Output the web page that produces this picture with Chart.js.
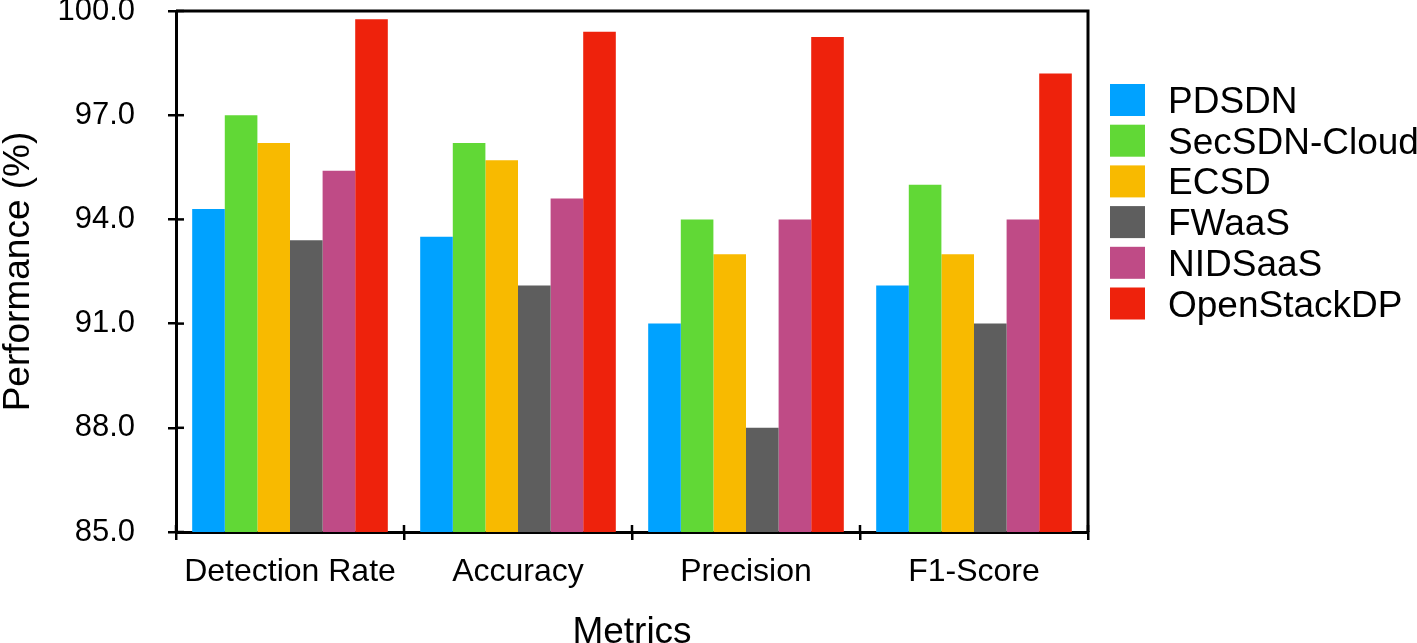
<!DOCTYPE html>
<html>
<head>
<meta charset="utf-8">
<script src="https://cdn.jsdelivr.net/npm/chart.js@4.4.1/dist/chart.umd.min.js"></script>
<style>
body{margin:0;background:#fff;}
#wrap{width:1417px;height:643px;position:relative;}
</style>
</head>
<body>
<div id="wrap"><canvas id="barChart"></canvas></div>
<script>
const categories = ['Detection Rate', 'Accuracy', 'Precision', 'F1-Score'];
const pdsdn     = [94.3, 93.5, 91.0, 92.1];
const secsdn    = [97.0, 96.2, 94.0, 95.0];
const ecsd      = [96.2, 95.7, 93.0, 93.0];
const fwaas     = [93.4, 92.1, 88.0, 91.0];
const nidsaas   = [95.4, 94.6, 94.0, 94.0];
const openstack = [99.76, 99.4, 99.25, 98.2];
const seriesNames  = ['PDSDN', 'SecSDN-Cloud', 'ECSD', 'FWaaS', 'NIDSaaS', 'OpenStackDP'];
const seriesColors = ['#00A2FF', '#61D836', '#F8BA00', '#5E5E5E', '#BF4B86', '#EE220C'];
const yTicks = [85, 88, 91, 94, 97, 100];

const FONT = "'Liberation Sans', Arial, sans-serif";
Chart.defaults.font.family = FONT;
Chart.defaults.color = '#000';

// frame top/right, inward tick marks and the legend
const frame = {
  id: 'frame',
  afterDraw(chart) {
    const {ctx, chartArea: a, scales: {x, y}} = chart;
    ctx.save();
    ctx.strokeStyle = '#000';
    ctx.lineWidth = 3;
    ctx.beginPath();
    ctx.moveTo(a.left, a.top);
    ctx.lineTo(a.right, a.top);
    ctx.lineTo(a.right, a.bottom);
    ctx.stroke();

    ctx.lineWidth = 2.5;
    yTicks.forEach(v => {
      const py = y.getPixelForValue(v);
      ctx.beginPath(); ctx.moveTo(a.left, py); ctx.lineTo(a.left + 8, py); ctx.stroke();
    });
    const half = (x.getPixelForValue(1) - x.getPixelForValue(0)) / 2;
    for (let i = 0; i <= categories.length; i++) {
      const px = x.getPixelForValue(0) - half + i * 2 * half;
      ctx.beginPath(); ctx.moveTo(px, a.bottom); ctx.lineTo(px, a.bottom - 7); ctx.stroke();
    }

    ctx.font = '37px ' + FONT;
    ctx.textBaseline = 'alphabetic';
    chart.data.datasets.forEach((ds, i) => {
      const top = 84 + i * 40.7;
      ctx.fillStyle = ds.backgroundColor;
      ctx.fillRect(a.right + 22, top, 35, 32);
      ctx.fillStyle = '#000';
      ctx.fillText(ds.label, a.right + 80, top + 29);
    });
    ctx.restore();
  }
};

const series = [pdsdn, secsdn, ecsd, fwaas, nidsaas, openstack];

new Chart(document.getElementById('barChart'), {
  type: 'bar',
  data: {
    labels: categories,
    datasets: series.map((d, i) => ({
      label: seriesNames[i],
      data: d,
      backgroundColor: seriesColors[i],
      borderWidth: 0,
      categoryPercentage: 0.858,
      barPercentage: 1.0
    }))
  },
  options: {
    responsive: true,
    maintainAspectRatio: false,
    animation: false,
    layout: {padding: {top: 11, right: 329, left: 0, bottom: 0}},
    plugins: {legend: {display: false}, tooltip: {enabled: false}},
    scales: {
      x: {
        grid: {offset: true, drawOnChartArea: false, drawTicks: true, tickLength: 8, color: '#000', lineWidth: 2.5},
        border: {display: true, color: '#000', width: 3},
        ticks: {font: {size: 32}, padding: 13, color: '#000', maxRotation: 0},
        title: {display: true, text: 'Metrics', font: {size: 37, lineHeight: 1}, padding: {top: 0, bottom: -8}},
        afterFit: s => { s.height = 111; s.paddingLeft = 0; s.paddingRight = 0; }
      },
      y: {
        min: 85,
        max: 100,
        afterBuildTicks: s => { s.ticks = yTicks.map(v => ({value: v})); },
        grid: {drawOnChartArea: false, drawTicks: true, tickLength: 8, color: '#000', lineWidth: 2.5},
        border: {display: true, color: '#000', width: 3},
        ticks: {font: {size: 31}, padding: 33, color: '#000', callback: v => Number(v).toFixed(1)},
        title: {display: true, text: 'Performance (%)', font: {size: 37, lineHeight: 1}, padding: {top: 0, bottom: 0}},
        afterFit: s => { s.width = 176; s.paddingTop = 0; s.paddingBottom = 0; }
      }
    }
  },
  plugins: [frame]
});
</script>
</body>
</html>
